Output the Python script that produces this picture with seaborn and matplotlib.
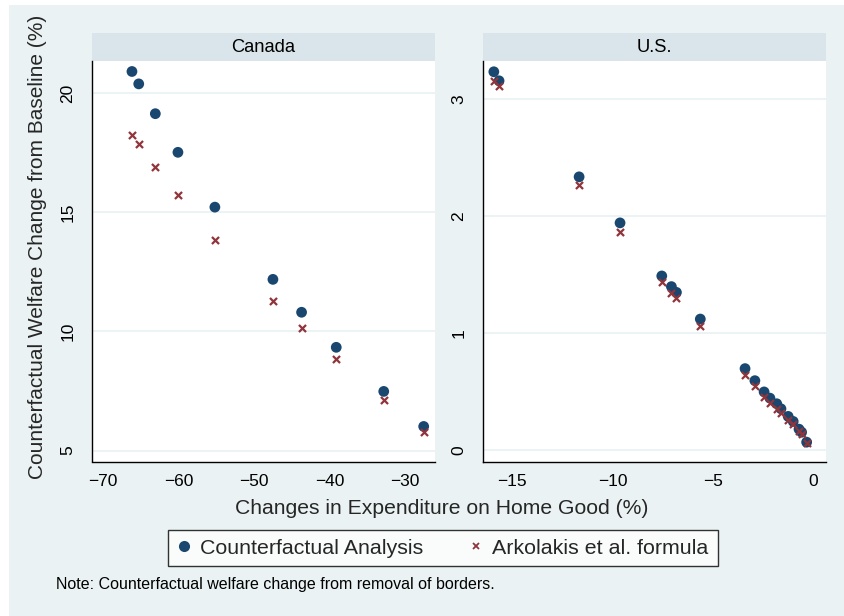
import numpy as np
import pandas as pd
import matplotlib
matplotlib.use("Agg")
import matplotlib.pyplot as plt
from matplotlib.patches import Rectangle
from matplotlib.lines import Line2D
import seaborn as sns

# ---------------- data ----------------
canada_x = [-66.2, -65.3, -63.1, -60.1, -55.2, -47.5, -43.7, -39.1, -32.8, -27.5]
canada_cf = [20.9, 20.38, 19.13, 17.51, 15.21, 12.18, 10.80, 9.33, 7.48, 6.01]
canada_ark = [18.22, 17.84, 16.89, 15.70, 13.85, 11.26, 10.13, 8.82, 7.10, 5.76]

us_x = [-15.92, -15.66, -11.67, -9.63, -7.55, -7.07, -6.82, -5.63, -3.40, -2.91,
        -2.45, -2.16, -1.82, -1.61, -1.25, -1.00, -0.71, -0.58, -0.33]
us_cf = [3.233, 3.156, 2.336, 1.943, 1.490, 1.399, 1.350, 1.122, 0.699, 0.596,
         0.500, 0.447, 0.399, 0.356, 0.291, 0.248, 0.182, 0.156, 0.071]
us_ark = [3.156, 3.11, 2.27, 1.861, 1.442, 1.344, 1.30, 1.066, 0.641, 0.549,
          0.453, 0.404, 0.355, 0.318, 0.262, 0.222, 0.165, 0.138, 0.066]

panels = ["Canada", "U.S."]
series = ["Counterfactual Analysis", "Arkolakis et al. formula"]
canada_xticks = [-70, -60, -50, -40, -30]
canada_yticks = [5, 10, 15, 20]
us_xticks = [-15, -10, -5, 0]
us_yticks = [0, 1, 2, 3]

xlabel = "Changes in Expenditure on Home Good (%)"
ylabel = "Counterfactual Welfare Change from Baseline (%)"
note = "Note: Counterfactual welfare change from removal of borders."

# ---------------- style ----------------
sns.set_style("white")
plt.rcParams["font.family"] = ["Liberation Sans", "DejaVu Sans"]

NAVY = "#1A476F"
MAROON = "#90353B"
BG = "#EAF2F3"
STRIP = "#D9E5EA"

W, H = 844, 616
fig = plt.figure(figsize=(W / 100, H / 100), dpi=100, facecolor="white")
fig.patches.append(Rectangle((9 / W, 0), 1 - 9 / W, 1 - 5 / H, transform=fig.transFigure,
                             facecolor=BG, edgecolor="none", zorder=-10))

def fx(px):
    return px / W

def fy(py):
    return 1 - py / H

top_px, bot_px = 61, 461.5
strip_top = 33
axes_specs = [
    ("Canada", 92, 435, canada_x, canada_cf, canada_ark, canada_xticks, canada_yticks,
     (-71.5, -26.0), (4.54, 21.34)),
    ("U.S.", 483, 825.5, us_x, us_cf, us_ark, us_xticks, us_yticks,
     (-16.46, 0.61), (-0.094, 3.325)),
]

for name, l, r, xs, cf, ark, xt, yt, xl, yl in axes_specs:
    ax = fig.add_axes([fx(l), fy(bot_px), fx(r) - fx(l), fy(top_px) - fy(bot_px)])
    ax.set_facecolor("white")
    df = pd.DataFrame({
        "x": list(xs) + list(xs),
        "y": list(cf) + list(ark),
        "series": [series[0]] * len(xs) + [series[1]] * len(xs),
    })
    sns.scatterplot(data=df[df.series == series[0]], x="x", y="y", ax=ax,
                    color=NAVY, marker="o", s=60, edgecolor="none", legend=False, zorder=3)
    sns.scatterplot(data=df[df.series == series[1]], x="x", y="y", ax=ax,
                    color=MAROON, marker="x", s=26, linewidth=1.6, legend=False, zorder=4)
    ax.set_xlim(*xl)
    ax.set_ylim(*yl)
    ax.set_xticks(xt)
    ax.set_yticks(yt)
    ax.set_xlabel("")
    ax.set_ylabel("")
    for yv in yt:
        ax.axhline(yv, color=BG, lw=1.3, zorder=1)
    for s in ["top", "right"]:
        ax.spines[s].set_visible(False)
    for s in ["left", "bottom"]:
        ax.spines[s].set_color("black")
        ax.spines[s].set_linewidth(1.0)
    ax.tick_params(axis="both", direction="out", length=5, width=1.0, color="black",
                   labelsize=12.5, labelcolor="black")
    ax.tick_params(axis="y", pad=7, labelrotation=90)
    ax.tick_params(axis="x", pad=4)
    for lab in ax.get_yticklabels():
        lab.set_va("center")
    # strip
    fig.patches.append(Rectangle((fx(l), fy(top_px)), fx(r) - fx(l), fy(strip_top) - fy(top_px),
                                 transform=fig.transFigure, facecolor=STRIP,
                                 edgecolor="none", zorder=-5))
    fig.text((fx(l) + fx(r)) / 2, (fy(top_px) + fy(strip_top)) / 2, name,
             ha="center", va="center", fontsize=13.2, color="black")

fig.text(fx(38), fy(247), ylabel, rotation=90, ha="center", va="center", fontsize=15)
fig.text(fx(442), fy(508), xlabel, ha="center", va="center", fontsize=15.2)

handles = [
    Line2D([], [], linestyle="none", marker="o", color=NAVY, markersize=8, markeredgewidth=0),
    Line2D([], [], linestyle="none", marker="x", color=MAROON, markersize=5, markeredgewidth=1.3),
]
leg = fig.legend(handles, series, loc="center", bbox_to_anchor=(fx(443), fy(548)),
                 ncol=2, frameon=True, fancybox=False, fontsize=15.4, handlelength=0.6,
                 handletextpad=0.45, columnspacing=2.2, borderpad=0.42)
leg.get_frame().set_edgecolor("black")
leg.get_frame().set_linewidth(1.0)
leg.get_frame().set_facecolor("white")

fig.text(fx(56), fy(585), note, ha="left", va="center", fontsize=11.5, color="black")

fig.savefig("out.png", dpi=100, facecolor="white")
